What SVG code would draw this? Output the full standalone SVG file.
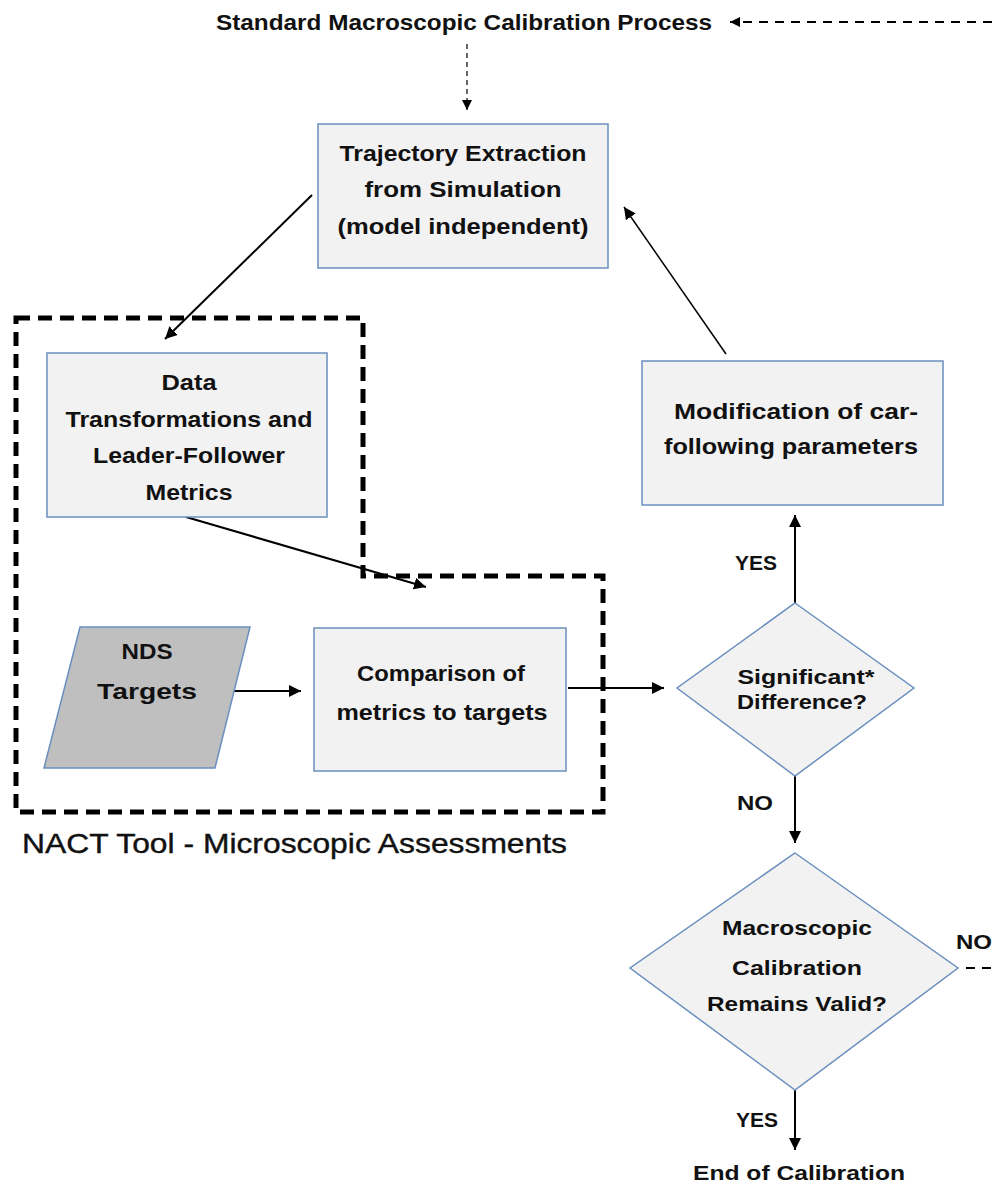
<svg xmlns="http://www.w3.org/2000/svg" width="992" height="1185" viewBox="0 0 992 1185">
<style>
.box{fill:#f2f2f2;stroke:#6a8fbf;stroke-width:1.5}
.t{font-family:"Liberation Sans",Arial,sans-serif;font-weight:bold;font-size:22px;fill:#111;text-anchor:middle}
.d{font-size:20px}
.ln{stroke:#000;stroke-width:2;fill:none}
</style>
<defs>
<marker id="ah" markerUnits="userSpaceOnUse" markerWidth="14" markerHeight="12" refX="12" refY="6" orient="auto">
<path d="M0,0 L12,6 L0,12 Z" fill="#000"/>
</marker>
<marker id="ahs" markerUnits="userSpaceOnUse" markerWidth="12" markerHeight="10" refX="10" refY="5" orient="auto">
<path d="M0,0 L10,5 L0,10 Z" fill="#000"/>
</marker>
</defs>
<rect width="992" height="1185" fill="#fff"/>

<g id="title">
<text class="t" x="464" y="30" font-size="19" textLength="496" lengthAdjust="spacingAndGlyphs">Standard Macroscopic Calibration Process</text>
</g>

<g id="nact-boundary">
<path d="M16,318 L363,318 L363,576 L603,576 L603,812 L16,812 Z" fill="none" stroke="#000" stroke-width="5" stroke-dasharray="14,8"/>
<text x="22" y="853" font-family="'Liberation Sans',Arial,sans-serif" font-size="28" fill="#111" stroke="#111" stroke-width="0.4" textLength="545" lengthAdjust="spacingAndGlyphs">NACT Tool - Microscopic Assessments</text>
</g>

<g id="connectors">
<line x1="992" y1="22" x2="730" y2="22" stroke="#000" stroke-width="2" stroke-dasharray="9,7" marker-end="url(#ahs)"/>
<line x1="467" y1="44" x2="467" y2="110" stroke="#000" stroke-width="1.2" stroke-dasharray="5,4" marker-end="url(#ahs)"/>
<line x1="312" y1="195" x2="165" y2="339" class="ln" marker-end="url(#ah)"/>
<line x1="186" y1="517" x2="426" y2="587" class="ln" marker-end="url(#ah)"/>
<line x1="233" y1="691" x2="301" y2="691" class="ln" marker-end="url(#ah)"/>
<line x1="568" y1="688" x2="664" y2="688" class="ln" marker-end="url(#ah)"/>
<line x1="795" y1="603" x2="795" y2="515" class="ln" marker-end="url(#ah)"/>
<line x1="726" y1="354" x2="624" y2="207" stroke="#000" stroke-width="1.5" marker-end="url(#ah)"/>
<line x1="795" y1="776" x2="795" y2="843" class="ln" marker-end="url(#ah)"/>
<line x1="795" y1="1090" x2="795" y2="1150" class="ln" marker-end="url(#ah)"/>
<line x1="966" y1="968" x2="992" y2="968" stroke="#000" stroke-width="2" stroke-dasharray="9,7"/>
<text class="t d" x="756" y="570" textLength="42" lengthAdjust="spacingAndGlyphs">YES</text>
<text class="t d" x="755" y="810" textLength="36" lengthAdjust="spacingAndGlyphs">NO</text>
<text class="t d" x="974" y="949" textLength="36" lengthAdjust="spacingAndGlyphs">NO</text>
<text class="t d" x="757" y="1127" textLength="42" lengthAdjust="spacingAndGlyphs">YES</text>
</g>

<g id="trajectory">
<rect class="box" x="318" y="124" width="290" height="144"/>
<text class="t" x="463" y="161" textLength="247" lengthAdjust="spacingAndGlyphs">Trajectory Extraction</text>
<text class="t" x="463" y="197" textLength="197" lengthAdjust="spacingAndGlyphs">from Simulation</text>
<text class="t" x="463" y="234" textLength="251" lengthAdjust="spacingAndGlyphs">(model independent)</text>
</g>

<g id="data">
<rect class="box" x="47" y="353" width="280" height="164"/>
<text class="t" x="189" y="390" textLength="55" lengthAdjust="spacingAndGlyphs">Data</text>
<text class="t" x="189" y="427" textLength="247" lengthAdjust="spacingAndGlyphs">Transformations and</text>
<text class="t" x="189" y="463" textLength="192" lengthAdjust="spacingAndGlyphs">Leader-Follower</text>
<text class="t" x="189" y="500" textLength="87" lengthAdjust="spacingAndGlyphs">Metrics</text>
</g>

<g id="nds">
<path d="M80,627 L250,627 L215,768 L44,768 Z" fill="#bfbfbf" stroke="#6a8fbf" stroke-width="1.5"/>
<text class="t" x="147" y="659" textLength="51" lengthAdjust="spacingAndGlyphs">NDS</text>
<text class="t" x="147" y="699" textLength="100" lengthAdjust="spacingAndGlyphs">Targets</text>
</g>

<g id="comparison">
<rect class="box" x="314" y="628" width="252" height="143"/>
<text class="t" x="441" y="681" textLength="168" lengthAdjust="spacingAndGlyphs">Comparison of</text>
<text class="t" x="442" y="720" textLength="211" lengthAdjust="spacingAndGlyphs">metrics to targets</text>
</g>

<g id="significant">
<path d="M795,603 L914,688 L795,776 L677,688 Z" class="box"/>
<text class="t d" x="806" y="684" textLength="137" lengthAdjust="spacingAndGlyphs">Significant*</text>
<text class="t d" x="802" y="709" textLength="130" lengthAdjust="spacingAndGlyphs">Difference?</text>
</g>

<g id="modification">
<rect class="box" x="642" y="361" width="301" height="144"/>
<text class="t" x="796" y="419" textLength="244" lengthAdjust="spacingAndGlyphs">Modification of car-</text>
<text class="t" x="791" y="454" textLength="254" lengthAdjust="spacingAndGlyphs">following parameters</text>
</g>

<g id="macro-valid">
<path d="M795,853 L958,968 L795,1090 L630,968 Z" class="box"/>
<text class="t d" x="797" y="935" textLength="150" lengthAdjust="spacingAndGlyphs">Macroscopic</text>
<text class="t d" x="797" y="975" textLength="130" lengthAdjust="spacingAndGlyphs">Calibration</text>
<text class="t d" x="797" y="1011" textLength="180" lengthAdjust="spacingAndGlyphs">Remains Valid?</text>
</g>

<g id="end">
<text class="t d" x="799" y="1180" textLength="212" lengthAdjust="spacingAndGlyphs">End of Calibration</text>
</g>
</svg>
